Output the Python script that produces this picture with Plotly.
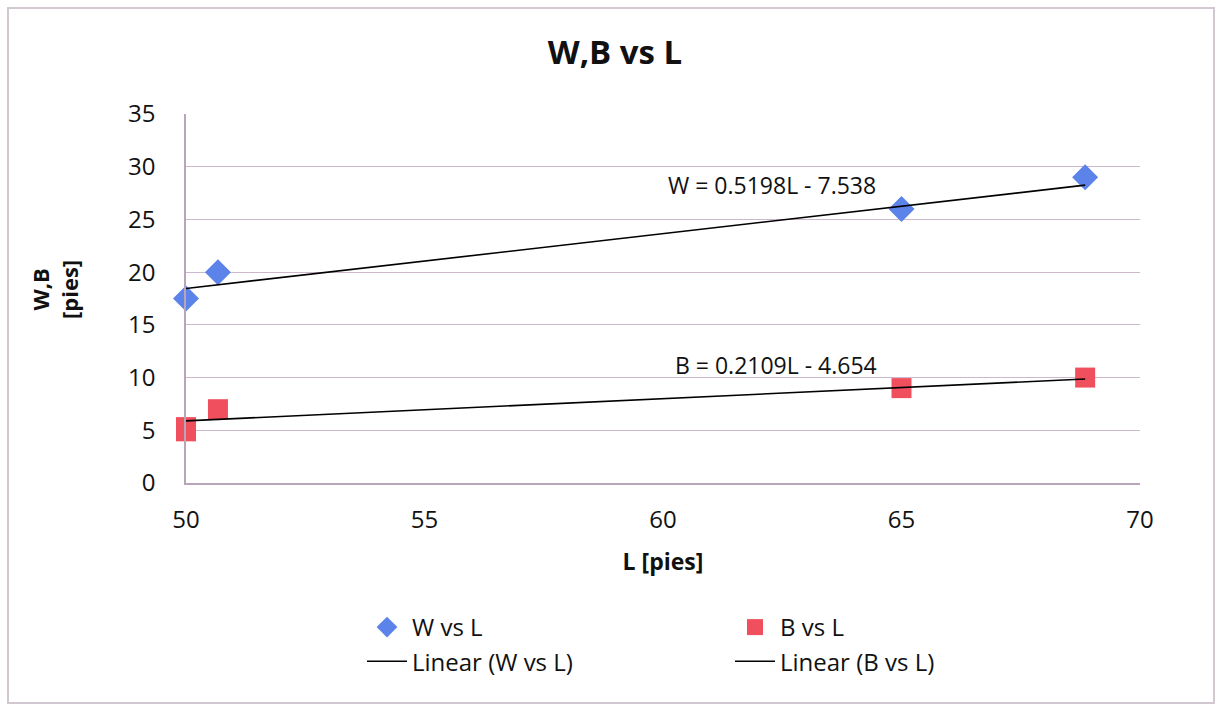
import plotly.graph_objects as go

# Data
L_w = [50.0, 50.67, 65.0, 68.85]
W = [17.5, 20.0, 26.0, 29.0]
L_b = [50.0, 50.0, 50.67, 65.0, 68.85]
B = [5.3, 4.9, 7.0, 9.0, 10.0]

# Trendline coefficients shown on the chart
w_slope, w_int = 0.5198, -7.538
b_slope, b_int = 0.2109, -4.654

x_ticks = [50, 55, 60, 65, 70]
y_ticks = [0, 5, 10, 15, 20, 25, 30, 35]

FONT = "Open Sans"
W_COLOR = "#5B83EA"
B_COLOR = "#F0505E"
GRID = "#CDB7CD"

# plot area in pixels
PL, PR, PT, PB = 186, 1140, 114, 483
WIDTH, HEIGHT = 1218, 706
pw, ph = PR - PL, PB - PT


def px_x(p):
    return (p - PL) / pw


def px_y(p):
    return (PB - p) / ph


def trend(xs, m, c):
    x0, x1 = min(xs), max(xs)
    return [x0, x1], [m * x0 + c, m * x1 + c]


fig = go.Figure()

fig.add_trace(go.Scatter(
    x=L_w, y=W, mode="markers", name="W vs L", cliponaxis=False,
    marker=dict(symbol="diamond", size=20, color=W_COLOR),
    legend="legend"))
tx, ty = trend(L_w, w_slope, w_int)
fig.add_trace(go.Scatter(
    x=tx, y=ty, mode="lines", name="Linear (W vs L)", cliponaxis=False,
    line=dict(color="black", width=1.6), legend="legend"))

fig.add_trace(go.Scatter(
    x=L_b, y=B, mode="markers", name="B vs L", cliponaxis=False,
    marker=dict(symbol="square", size=20, color=B_COLOR),
    legend="legend2"))
tx, ty = trend(L_b, b_slope, b_int)
fig.add_trace(go.Scatter(
    x=tx, y=ty, mode="lines", name="Linear (B vs L)", cliponaxis=False,
    line=dict(color="black", width=1.6), legend="legend2"))

legend_style = dict(
    orientation="v", xanchor="left", yanchor="top",
    font=dict(family=FONT, size=24, color="#111111"),
    bgcolor="rgba(0,0,0,0)", tracegroupgap=0, itemwidth=40,
)

fig.update_layout(
    width=WIDTH, height=HEIGHT,
    margin=dict(l=PL, r=WIDTH - PR, t=PT, b=HEIGHT - PB, autoexpand=False),
    paper_bgcolor="white", plot_bgcolor="white",
    font=dict(family=FONT, size=24, color="#111111"),
    title=dict(text="<b>W,B vs L</b>", x=615 / WIDTH, xanchor="center",
               y=1 - 52 / HEIGHT, yanchor="middle",
               font=dict(family=FONT, size=33, color="#111111")),
    xaxis=dict(range=[50, 70], tickvals=x_ticks, showgrid=False,
               showline=True, linecolor="#B8A6B8", linewidth=1.5,
               ticks="", ticklabelstandoff=14, zeroline=False,
               tickfont=dict(size=24),
               title=dict(text="<b>L [pies]</b>", standoff=20,
                          font=dict(size=23))),
    yaxis=dict(range=[0, 35], tickvals=y_ticks, showgrid=True,
               gridcolor=GRID, gridwidth=1.2,
               showline=True, linecolor="#B8A6B8", linewidth=1.5,
               ticks="", ticklabelstandoff=24, zeroline=False,
               tickfont=dict(size=24)),
    legend=dict(x=px_x(362), y=px_y(605), **legend_style),
    legend2=dict(x=px_x(730), y=px_y(605), **legend_style),
    showlegend=True,
)

# y axis title (two rotated lines)
fig.add_annotation(text="<b>W,B<br>[pies]</b>", textangle=-90,
                   xref="paper", yref="paper", x=px_x(54), y=px_y(290),
                   xanchor="center", yanchor="middle", showarrow=False,
                   font=dict(family=FONT, size=22, color="#111111"))

# trendline equations
fig.add_annotation(text=f"W = {w_slope}L - {abs(w_int)}", x=px_x(772), y=px_y(185),
                   xref="paper", yref="paper", xanchor="center", yanchor="middle",
                   showarrow=False,
                   font=dict(family=FONT, size=23, color="#111111"))
fig.add_annotation(text=f"B = {b_slope}L - {abs(b_int)}", x=px_x(776), y=px_y(365),
                   xref="paper", yref="paper", xanchor="center", yanchor="middle",
                   showarrow=False,
                   font=dict(family=FONT, size=23, color="#111111"))

# chart border
fig.add_shape(type="rect", xref="paper", yref="paper",
              x0=px_x(8), x1=px_x(1214), y0=px_y(703), y1=px_y(8),
              line=dict(color="#D2C8D2", width=2), layer="below")

fig.write_html("out.html")
